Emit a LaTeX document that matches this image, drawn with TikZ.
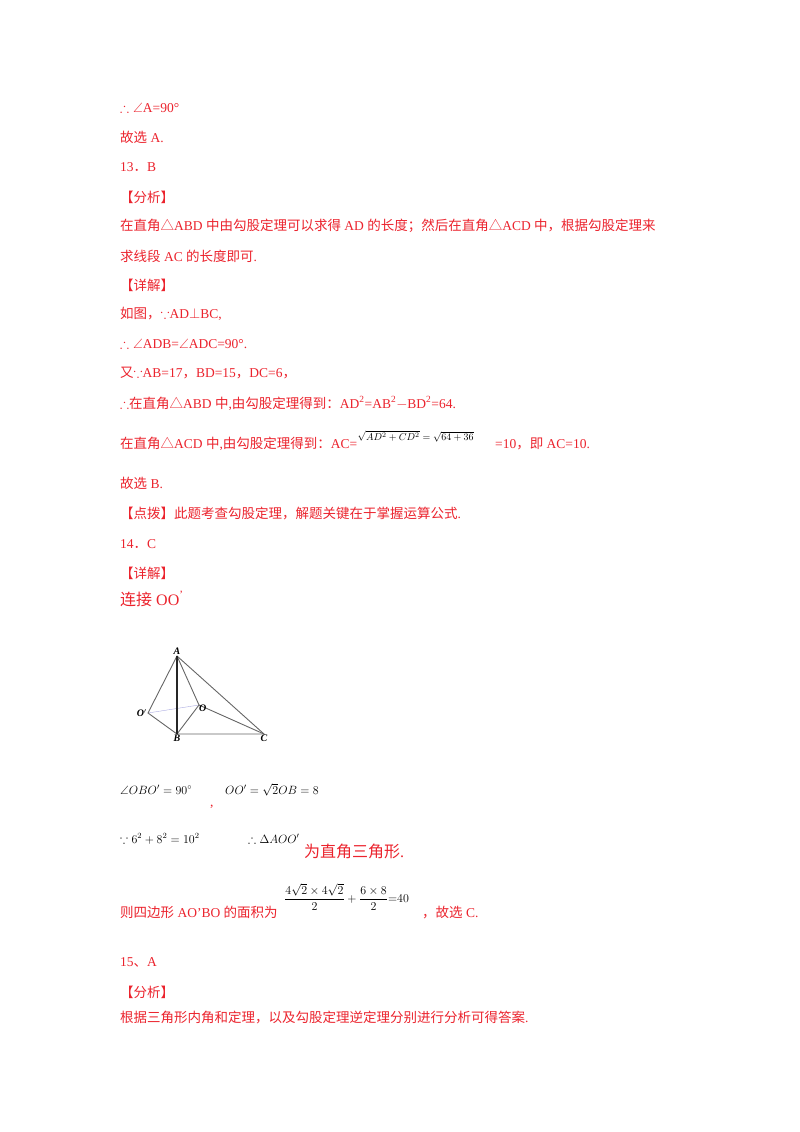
\documentclass[tikz,border=0pt]{standalone}
\usepackage{amsmath}
\usepackage{amssymb}
\usepackage{fontspec}
\setmainfont{Liberation Serif}
\newfontfamily\cjk{Noto Sans CJK SC}
\newcommand{\zh}[1]{{\cjk #1}}
\definecolor{ans}{RGB}{235,35,45}
\definecolor{aux}{RGB}{170,170,225}
\tikzstyle{line} = [anchor=base west, inner sep=0pt, text=ans, font=\fontsize{13.5}{16}\selectfont]
\tikzstyle{eq} = [anchor=base west, inner sep=0pt, text=black, font=\fontsize{12}{14}\selectfont]
\tikzstyle{pt} = [inner sep=1pt, font=\fontsize{10}{12}\selectfont\bfseries\itshape]

\begin{document}
\begin{tikzpicture}[x=1pt,y=-1pt]
        \useasboundingbox (0,0) rectangle (800,1132);
        % part 12, 13
        \node[line] (l1) at (120,112) {$\therefore\angle$A=90°};
        \node[line] (l2) at (120,142) {\zh{故选} A.};
        \node[line] (l3) at (120,171) {13\zh{．}B};
        \node[line] (l4) at (120,202) {\zh{【分析】}};
        \node[line] (l5) at (120,230) {\zh{在直角△}ABD \zh{中由勾股定理可以求得} AD \zh{的长度；然后在直角△}ACD \zh{中，根据勾股定理来}};
        \node[line] (l6) at (120,261) {\zh{求线段} AC \zh{的长度即可}.};
        \node[line] (l7) at (120,290) {\zh{【详解】}};
        \node[line] (l8) at (120,318) {\zh{如图，}$\because$AD$\perp$BC,};
        \node[line] (l9) at (120,348) {$\therefore\angle$ADB=$\angle$ADC=90°.};
        \node[line] (l10) at (120,377) {\zh{又}$\because$AB=17\zh{，}BD=15\zh{，}DC=6\zh{，}};
        \node[line] (l11) at (120,408) {$\boldsymbol{\therefore}$\zh{在直角△}ABD \zh{中},\zh{由勾股定理得到：}AD\textsuperscript{2}=AB\textsuperscript{2}$-$BD\textsuperscript{2}=64.};
        \node[line] (l12) at (120,448) {\zh{在直角△}ACD \zh{中},\zh{由勾股定理得到：}AC=};
        \node[eq, font=\fontsize{10}{12}\selectfont] (s1) at (l12.base east) [yshift=8pt] {$\sqrt{AD^2+CD^2}=\sqrt{64+36}$};
        \node[line] (l13) at (495,448) {=10\zh{，即} AC=10.};
        \node[line] (l14) at (120,488) {\zh{故选} B.};
        \node[line] (l15) at (120,518) {\zh{【点拨】此题考查勾股定理，解题关键在于掌握运算公式}.};
        % part 14
        \node[line] (l16) at (120,548) {14\zh{．}C};
        \node[line] (l17) at (120,578) {\zh{【详解】}};
        \node[line, font=\fontsize{16}{18}\selectfont] (l18) at (120,605) {\zh{连接} OO\textsuperscript{\textquoteright}};

        \coordinate (A) at (177,656);
        \coordinate (B) at (177,734);
        \coordinate (C) at (264,734);
        \coordinate (P) at (148,713);
        \coordinate (O) at (199,705);
        \draw[aux, thin] (P) -- (O);
        \draw[gray!80!black, line width=0.9pt] (P) -- (A) -- (C) -- (B) -- cycle;
        \draw[gray!80!black, line width=0.9pt] (A) -- (O) -- (C) (O) -- (B);
        \draw[gray!30!black, line width=1.4pt] (A) -- (B);
        \node[pt, above] (nA) at (A) {A};
        \node[pt, below] (nB) at (B) {B};
        \node[pt, below] (nC) at (C) {C};
        \node[pt, left] (nP) at (P) {O$'$};
        \node[pt, below right, inner sep=0pt] (nO) at (O) {O};

        \node[eq] (e1) at (120,794) {$\angle OBO'=90^\circ$};
        \node[line] (c1) at (210,806) {,};
        \node[eq] (e2) at (225,794) {$OO'=\sqrt{2}OB=8$};
        \node[eq] (e3) at (120,843) {$\because 6^2+8^2=10^2$};
        \node[eq] (e4) at (248,843) {$\therefore\Delta AOO'$};
        \node[line, font=\fontsize{16}{18}\selectfont] (l19) at (304,857) {\zh{为直角三角形}.};
        \node[line] (l20) at (120,917) {\zh{则四边形} AO'BO \zh{的面积为}};
        \node[eq, anchor=west] (e5) at (284,897) {$\dfrac{4\sqrt{2}\times4\sqrt{2}}{2}+\dfrac{6\times8}{2}{=}40$};
        \node[line] (l21) at (422,917) {\zh{，故选} C.};
        % part 15
        \node[line] (l22) at (120,966) {15\zh{、}A};
        \node[line] (l23) at (120,997) {\zh{【分析】}};
        \node[line] (l24) at (120,1022) {\zh{根据三角形内角和定理，以及勾股定理逆定理分别进行分析可得答案}.};
    \end{tikzpicture}
\end{document}
